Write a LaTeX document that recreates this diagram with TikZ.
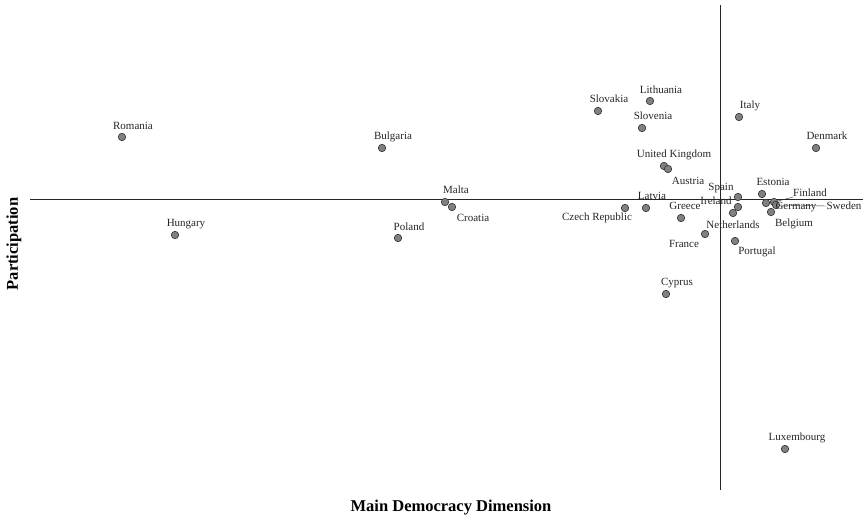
\documentclass[tikz,border=0pt]{standalone}
\usepackage{fontspec}
\setmainfont{Liberation Serif}
\begin{document}
\begin{tikzpicture}[x=1pt,y=-1pt,
  pt/.style={circle,draw=black!80,fill=black!50,line width=0.6pt,inner sep=0pt,minimum size=7.5pt},
  lab/.style={font=\fontsize{11}{12}\selectfont,inner sep=0pt,text=black!85},
  axis/.style={line width=1pt,black!85},
  leader/.style={line width=0.4pt,black!80},
  title/.style={font=\fontsize{16.5}{18}\selectfont\bfseries,inner sep=0pt}]
\useasboundingbox (0,0) rectangle (863,519);
% axes
\coordinate (hl) at (30,199); \coordinate (hr) at (863,199);
\coordinate (vt) at (720,5); \coordinate (vb) at (720,490);
\draw[axis] (hl) -- (hr);
\draw[axis] (vt) -- (vb);
% titles
\node[title] (xt) at (451,508) {Main Democracy Dimension};
\node[title,rotate=90] (yt) at (14,244) {Participation};
% points
\node[pt] (rom) at (122,137) {};
\node[pt] (hun) at (175,235) {};
\node[pt] (bul) at (382,148) {};
\node[pt] (pol) at (398,238) {};
\node[pt] (mlt) at (445,202) {};
\node[pt] (cro) at (452,207) {};
\node[pt] (svk) at (598,111) {};
\node[pt] (ltu) at (650,101) {};
\node[pt] (svn) at (642,128) {};
\node[pt] (uk) at (664,166) {};
\node[pt] (aut) at (668,169) {};
\node[pt] (cze) at (625,208) {};
\node[pt] (lva) at (646,208) {};
\node[pt] (grc) at (681,218) {};
\node[pt] (fra) at (705,234) {};
\node[pt] (cyp) at (666,294) {};
\node[pt] (ita) at (739,117) {};
\node[pt] (dnk) at (816,148) {};
\node[pt] (est) at (762,194) {};
\node[pt] (esp) at (738,197) {};
\node[pt] (irl) at (738,207) {};
\node[pt] (nld) at (733,213) {};
\node[pt] (prt) at (735,241) {};
\node[pt] (deu) at (766,203) {};
\node[pt] (fin) at (774,202) {};
\node[pt] (swe) at (776,205) {};
\node[pt] (bel) at (771,212) {};
\node[pt] (lux) at (785,449) {};
% labels
\node[lab] (lrom) at (133,126) {Romania};
\node[lab] (lhun) at (186,224) {Hungary};
\node[lab] (lbul) at (393,137) {Bulgaria};
\node[lab] (lpol) at (409,227) {Poland};
\node[lab] (lmlt) at (456,190) {Malta};
\node[lab] (lcro) at (473,218) {Croatia};
\node[lab] (lsvk) at (609,99) {Slovakia};
\node[lab] (lltu) at (661,90) {Lithuania};
\node[lab] (lsvn) at (653,116) {Slovenia};
\node[lab] (luk) at (674,155) {United Kingdom};
\node[lab] (laut) at (688,181) {Austria};
\node[lab] (lcze) at (597,218) {Czech Republic};
\node[lab] (llva) at (652,196) {Latvia};
\node[lab] (lgrc) at (685,206) {Greece};
\node[lab] (lfra) at (684,244) {France};
\node[lab] (lcyp) at (677,283) {Cyprus};
\node[lab] (lita) at (750,106) {Italy};
\node[lab] (ldnk) at (827,136) {Denmark};
\node[lab] (lest) at (773,182) {Estonia};
\node[lab] (lesp) at (721,188) {Spain};
\node[lab] (lirl) at (716,201) {Ireland};
\node[lab] (lnld) at (733,225) {Netherlands};
\node[lab] (lprt) at (757,252) {Portugal};
\node[lab] (lfin) at (810,193) {Finland};
\node[lab] (ldeu) at (796,207) {Germany};
\node[lab] (lswe) at (844,206) {Sweden};
\node[lab] (lbel) at (794,224) {Belgium};
\node[lab] (llux) at (797,438) {Luxembourg};
% leaders
\draw[leader] (fin) -- (lfin.south west);
\draw[leader] (swe) -- (lswe.west);
\end{tikzpicture}
\end{document}
